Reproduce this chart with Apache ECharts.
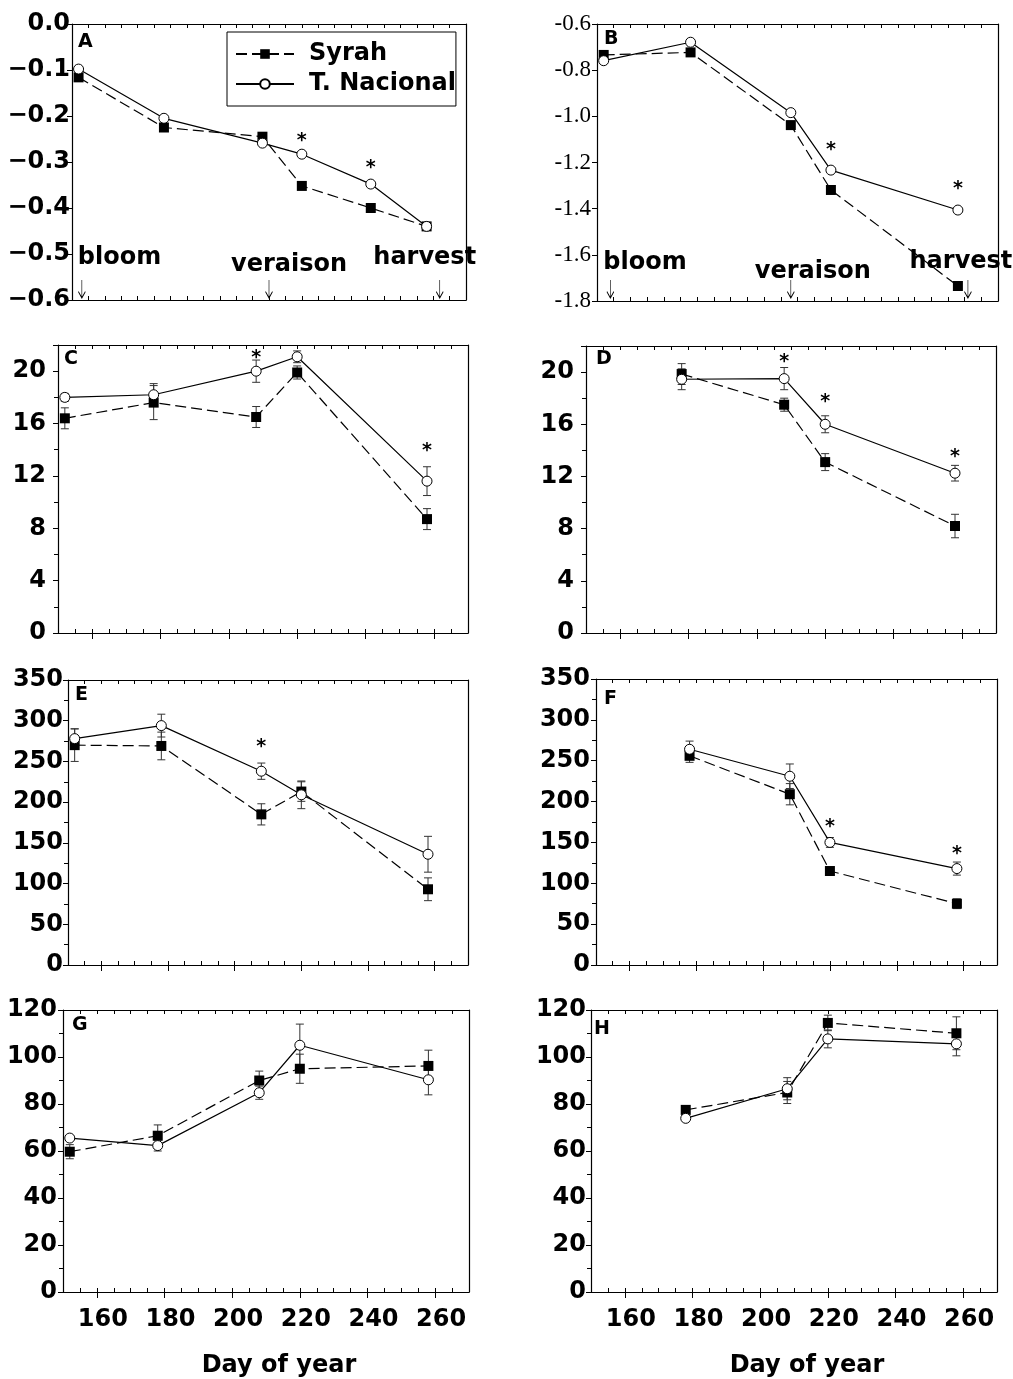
<!DOCTYPE html>
<html>
<head>
<meta charset="utf-8">
<script src="https://cdn.jsdelivr.net/npm/echarts@6/dist/echarts.min.js"></script>
<style>
  html, body { margin: 0; padding: 0; background: #fff; }
  #chart { width: 1013px; height: 1379px; }
</style>
</head>
<body>
<div id="chart"></div>
<script>
/* ---- data (day of year / value / error) ---- */
var daysA = [152, 178, 208, 220, 241, 258];
var syrahA = [-0.116, -0.225, -0.245, -0.352, -0.400, -0.440];
var tnA = [-0.098, -0.205, -0.259, -0.283, -0.348, -0.440];
var starsA = [[220, -0.246], [241, -0.304]];

var daysB = [152, 178, 208, 220, 258];
var syrahB = [-0.734, -0.723, -1.038, -1.319, -1.735];
var tnB = [-0.759, -0.679, -0.984, -1.233, -1.406];
var starsB = [[220, -1.129], [258, -1.298]];

var phaseNames = ["bloom", "veraison", "harvest"];
var phaseDaysA = [153, 210, 262];
var phaseDaysB = [154, 208, 261];

var daysC = [152, 178, 208, 220, 258];
var syrahC = [16.4, 17.6, 16.5, 19.9, 8.7];
var syrahCErr = [0.8, 1.3, 0.8, 0.5, 0.8];
var tnC = [18.0, 18.2, 20.0, 21.1, 11.6];
var tnCErr = [0.3, 0.85, 0.85, 0.45, 1.1];
var starsC = [[208, 21.3], [258, 14.2]];

var daysD = [178, 208, 220, 258];
var syrahD = [19.85, 17.5, 13.1, 8.2];
var syrahDErr = [0.8, 0.5, 0.65, 0.9];
var tnD = [19.45, 19.5, 16.0, 12.25];
var tnDErr = [0.8, 0.85, 0.65, 0.6];
var starsD = [[208, 21.1], [220, 18.0], [258, 13.8]];

var daysE = [152, 178, 208, 220, 258];
var syrahE = [270, 269, 185, 213, 93];
var syrahEErr = [20, 17, 13, 12, 14];
var tnE = [278, 294, 238, 209, 136];
var tnEErr = [12, 14, 10, 17, 22];
var starsE = [[208, 272.6]];

var daysF = [178, 208, 220, 258];
var syrahF = [256, 209, 115, 75];
var syrahFErr = [8, 13, 5, 6];
var tnF = [264, 231, 150, 118];
var tnFErr = [10, 15, 6, 8];
var starsF = [[220, 173.8], [258, 140.8]];

var daysG = [152, 178, 208, 220, 258];
var syrahG = [59.7, 66.5, 90, 95, 96.2];
var syrahGErr = [3, 4.6, 4, 6.2, 6.7];
var tnG = [65.5, 62.3, 84.8, 105, 90.3];
var tnGErr = [1, 2.3, 2.8, 9, 6.4];

var daysH = [178, 208, 220, 258];
var syrahH = [77.5, 84.9, 114.5, 110.1];
var syrahHErr = [1, 4.7, 3.3, 7];
var tnH = [73.9, 86.5, 107.7, 105.6];
var tnHErr = [0.8, 4.7, 3.8, 5.1];

var xTicks = [160, 180, 200, 220, 240, 260];

/* ---- layout of the eight panels ---- */
var FONT = "DejaVu Sans";
var panels = [
  { key: "A", grid: { left: 72, top: 24, width: 394, height: 276 }, y: [-0.6, 0, 0.1], margin: 2,
    fmt: function (v) { return Math.abs(v) < 1e-9 ? "0.0" : v.toFixed(1).replace("-", "\u2212"); },
    days: daysA, syrah: syrahA, tn: tnA, stars: starsA, letter: [78, 33],
    phase: { days: phaseDaysA, y: -0.576, offs: [[-4, -31, "left"], [20, -24, "center"], [-15, -31, "center"]] } },
  { key: "B", grid: { left: 597, top: 24, width: 401, height: 277 }, y: [-1.8, -0.6, 0.2], margin: 6, serif: true,
    fmt: function (v) { return v.toFixed(1); },
    days: daysB, syrah: syrahB, tn: tnB, stars: starsB, letter: [604, 30],
    phase: { days: phaseDaysB, y: -1.748, offs: [[-7, -26, "left"], [22, -17, "center"], [-7, -27, "center"]] } },
  { key: "C", grid: { left: 58, top: 345, width: 410, height: 288 }, y: [0, 22, 4], margin: 12, minor: true,
    days: daysC, syrah: syrahC, tn: tnC, syrahErr: syrahCErr, tnErr: tnCErr, stars: starsC, letter: [64, 350] },
  { key: "D", grid: { left: 586, top: 346, width: 410, height: 287 }, y: [0, 22, 4], margin: 12, minor: true,
    days: daysD, syrah: syrahD, tn: tnD, syrahErr: syrahDErr, tnErr: tnDErr, stars: starsD, letter: [596, 350] },
  { key: "E", grid: { left: 68, top: 680, width: 400, height: 285 }, y: [0, 350, 50], margin: 5, minor: true,
    days: daysE, syrah: syrahE, tn: tnE, syrahErr: syrahEErr, tnErr: tnEErr, stars: starsE, letter: [75, 686] },
  { key: "F", grid: { left: 596, top: 679, width: 401, height: 286 }, y: [0, 350, 50], margin: 6, minor: true,
    days: daysF, syrah: syrahF, tn: tnF, syrahErr: syrahFErr, tnErr: tnFErr, stars: starsF, letter: [604, 690] },
  { key: "G", grid: { left: 63, top: 1010, width: 406, height: 283 }, y: [0, 120, 20], margin: 6, minor: true, xlab: true,
    days: daysG, syrah: syrahG, tn: tnG, syrahErr: syrahGErr, tnErr: tnGErr, stars: [], letter: [72, 1016] },
  { key: "H", grid: { left: 591, top: 1010, width: 406, height: 283 }, y: [0, 120, 20], margin: 5, minor: true, xlab: true,
    days: daysH, syrah: syrahH, tn: tnH, syrahErr: syrahHErr, tnErr: tnHErr, stars: [], letter: [594, 1020] }
];

function zip(a, b, c) {
  var out = [];
  for (var i = 0; i < a.length; i++) {
    out.push(c ? [a[i], b[i], c[i]] : [a[i], b[i]]);
  }
  return out;
}

/* error bar: vertical whisker with caps */
function errRender(params, api) {
  var x = api.value(0), y = api.value(1), e = api.value(2);
  var hi = api.coord([x, y + e]);
  var lo = api.coord([x, y - e]);
  var w = 4;
  var st = { stroke: "#333", lineWidth: 1 };
  return {
    type: "group",
    children: [
      { type: "line", shape: { x1: hi[0], y1: hi[1], x2: lo[0], y2: lo[1] }, style: st },
      { type: "line", shape: { x1: hi[0] - w, y1: hi[1], x2: hi[0] + w, y2: hi[1] }, style: st },
      { type: "line", shape: { x1: lo[0] - w, y1: lo[1], x2: lo[0] + w, y2: lo[1] }, style: st }
    ]
  };
}

var grids = [], xAxes = [], yAxes = [], series = [], graphics = [];
var LINE = { show: true, onZero: false, lineStyle: { color: "#000", width: 1.2 } };

panels.forEach(function (p, g) {
  grids.push(p.grid);
  var outside = g >= 2;
  /* bottom axis: major ticks + labels */
  xAxes.push({
    type: "value", gridIndex: g, position: "bottom", min: 150, max: 270,
    axisLine: LINE, splitLine: { show: false },
    axisTick: { show: true, customValues: xTicks, inside: !outside, length: outside ? 6 : 4, lineStyle: { color: "#000" } },
    axisLabel: p.xlab ? {
      show: true, customValues: xTicks, color: "#000", fontFamily: FONT, fontWeight: "bold",
      fontSize: 24, margin: 16, padding: [0, 0, 0, 12]
    } : { show: false },
    name: p.xlab ? "Day of year" : "", nameLocation: "middle", nameGap: 62,
    nameTextStyle: { color: "#000", fontFamily: FONT, fontWeight: "bold", fontSize: 24, padding: [0, 0, 0, 26] }
  });
  /* bottom axis: 5-day minor ticks */
  xAxes.push({
    type: "value", gridIndex: g, position: "bottom", min: 150, max: 270, interval: 5,
    axisLine: { show: false, onZero: false }, splitLine: { show: false }, axisLabel: { show: false },
    axisTick: { show: true, inside: true, length: 4, lineStyle: { color: "#000" } }
  });
  /* top frame */
  xAxes.push({
    type: "value", gridIndex: g, position: "top", min: 150, max: 270, interval: 5,
    axisLine: LINE, splitLine: { show: false }, axisLabel: { show: false },
    axisTick: { show: true, inside: true, length: 4, lineStyle: { color: "#000" } }
  });
  yAxes.push({
    type: "value", gridIndex: g, position: "left", min: p.y[0], max: p.y[1], interval: p.y[2],
    axisLine: LINE, splitLine: { show: false },
    axisTick: { show: true, length: 5, lineStyle: { color: "#000" } },
    minorTick: { show: !!p.minor, splitNumber: 2, length: 4, lineStyle: { color: "#000" } },
    axisLabel: {
      show: true, margin: p.margin, color: "#000", showMaxLabel: p.y[1] === 22 ? false : null,
      fontFamily: p.serif ? "Liberation Serif" : FONT, fontWeight: p.serif ? "normal" : "bold",
      fontSize: p.serif ? 23 : 24, formatter: p.fmt
    }
  });
  yAxes.push({
    type: "value", gridIndex: g, position: "right", min: p.y[0], max: p.y[1], interval: p.y[2],
    axisLine: LINE, splitLine: { show: false }, axisTick: { show: false }, axisLabel: { show: false }
  });

  var xi = g * 3, yi = g * 2;
  if (p.syrahErr) {
    series.push({ type: "custom", xAxisIndex: xi, yAxisIndex: yi, renderItem: errRender,
      data: zip(p.days, p.syrah, p.syrahErr), z: 1, silent: true });
    series.push({ type: "custom", xAxisIndex: xi, yAxisIndex: yi, renderItem: errRender,
      data: zip(p.days, p.tn, p.tnErr), z: 1, silent: true });
  }
  series.push({
    name: "Syrah", type: "line", xAxisIndex: xi, yAxisIndex: yi, data: zip(p.days, p.syrah),
    symbol: "rect", symbolSize: 10, z: 3, animation: false,
    itemStyle: { color: "#000" },
    lineStyle: { color: "#000", width: 1.2, type: [11, 5] }
  });
  series.push({
    name: "T. Nacional", type: "line", xAxisIndex: xi, yAxisIndex: yi, data: zip(p.days, p.tn),
    symbol: "circle", symbolSize: 10, showAllSymbol: true, z: 4, animation: false,
    itemStyle: { color: "#fff", borderColor: "#000", borderWidth: 1 },
    lineStyle: { color: "#000", width: 1.2, type: "solid" }
  });
  if (p.stars.length) {
    series.push({
      type: "scatter", xAxisIndex: xi, yAxisIndex: yi, data: p.stars, symbolSize: 0, z: 5, silent: true,
      itemStyle: { opacity: 1 },
      label: { show: true, position: "inside", offset: [0, 4], formatter: "*", color: "#000",
        fontFamily: FONT, fontWeight: "bold", fontSize: 19 }
    });
  }
  if (p.phase) {
    var pd = p.phase.days.map(function (d, i) {
      var o = p.phase.offs[i];
      return {
        value: [d, p.phase.y], name: phaseNames[i],
        label: { offset: [o[0], o[1]], align: o[2] }
      };
    });
    series.push({
      type: "scatter", xAxisIndex: xi, yAxisIndex: yi, data: pd, z: 2, silent: true,
      symbol: "path://M4,0 L4,20 M0.5,13 L4,20 L7.5,13", symbolSize: [7, 18],
      itemStyle: { color: "rgba(0,0,0,0)", borderColor: "#000", borderWidth: 1, opacity: 1 },
      label: { show: true, position: "inside", formatter: "{b}", color: "#000",
        fontFamily: FONT, fontWeight: "bold", fontSize: 24 }
    });
  }
  graphics.push({
    type: "text", left: p.letter[0], top: p.letter[1],
    style: { text: p.key, fill: "#000", font: "bold 19px '" + FONT + "'" }
  });
});

var chart = echarts.init(document.getElementById("chart"));
chart.setOption({
  animation: false,
  backgroundColor: "#fff",
  textStyle: { fontFamily: FONT },
  grid: grids,
  xAxis: xAxes,
  yAxis: yAxes,
  legend: {
    data: ["Syrah", "T. Nacional"], orient: "vertical", left: 227, top: 32,
    borderColor: "#000", borderWidth: 1, borderRadius: 0, padding: [9, 0, 9, 8],
    itemWidth: 58, itemHeight: 12, itemGap: 4,
    textStyle: { color: "#000", fontFamily: FONT, fontWeight: "bold", fontSize: 24, lineHeight: 26, padding: [0, 0, 0, 10] }
  },
  graphic: graphics,
  series: series
});
</script>
</body>
</html>
